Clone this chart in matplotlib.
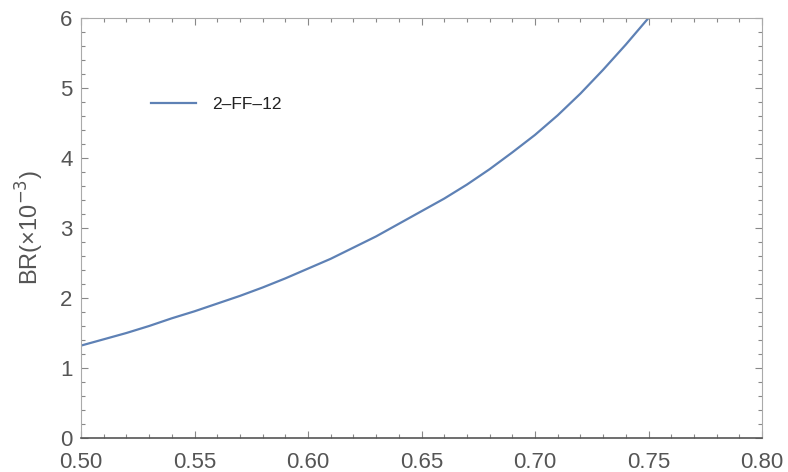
import matplotlib
matplotlib.use("Agg")
import matplotlib.pyplot as plt
from matplotlib.ticker import MultipleLocator

plt.rcParams["font.family"] = ["Liberation Sans", "DejaVu Sans"]

# values
mass = [0.50, 0.51, 0.52, 0.53, 0.54, 0.55, 0.56, 0.57, 0.58, 0.59, 0.60, 0.61, 0.62,
        0.63, 0.64, 0.65, 0.66, 0.67, 0.68, 0.69, 0.70, 0.71, 0.72, 0.73, 0.74, 0.75]
br = [1.32, 1.41, 1.50, 1.60, 1.71, 1.81, 1.92, 2.03, 2.15, 2.28, 2.42, 2.56, 2.72,
      2.88, 3.06, 3.24, 3.42, 3.62, 3.84, 4.08, 4.33, 4.61, 4.92, 5.26, 5.62, 6.00]
series_name = "2\u2013FF\u201312"

fig = plt.figure(figsize=(7.88, 4.72), dpi=100)
ax = fig.add_axes([81 / 788, 1 - 438 / 472, 681 / 788, 420 / 472])

ax.plot(mass, br, color="#5E81B5", lw=1.6, label=series_name, solid_joinstyle="round")

ax.set_xlim(0.5, 0.8)
ax.set_ylim(0, 6)
ax.xaxis.set_major_locator(MultipleLocator(0.05))
ax.xaxis.set_minor_locator(MultipleLocator(0.01))
ax.yaxis.set_major_locator(MultipleLocator(1))
ax.yaxis.set_minor_locator(MultipleLocator(0.2))
ax.xaxis.set_major_formatter(plt.FormatStrFormatter("%.2f"))

ax.tick_params(which="both", direction="in", top=True, right=True,
               colors="#888888", labelcolor="#555555", labelsize=16, width=0.8)
ax.tick_params(which="major", length=5)
ax.tick_params(which="minor", length=3)
ax.tick_params(axis="x", which="major", pad=10)
ax.tick_params(axis="y", which="major", pad=6)
for side in ["top", "right", "left"]:
    ax.spines[side].set_color("#aaaaaa")
    ax.spines[side].set_linewidth(0.8)
ax.spines["bottom"].set_color("#555555")
ax.spines["bottom"].set_linewidth(1.2)

ax.set_ylabel("BR(\u00d710$^{-3}$)", fontsize=17, color="#555555", labelpad=10)

ax.legend(loc="upper left", bbox_to_anchor=(0.08, 0.85), frameon=False,
          fontsize=12.5, handlelength=2.6, handletextpad=0.9, labelcolor="#222222")

fig.savefig("out.png", dpi=100)
